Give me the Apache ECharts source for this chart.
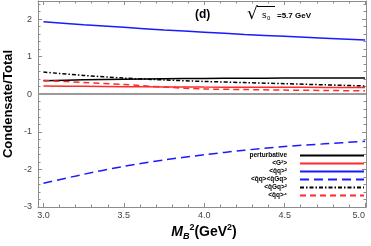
<!DOCTYPE html>
<html><head><meta charset="utf-8">
<script src="https://cdn.jsdelivr.net/npm/echarts@6/dist/echarts.min.js"></script>
<style>html,body{margin:0;padding:0;background:#fff}#c{width:371px;height:246px}</style>
</head><body><div id="c"></div>
<script>
const xValues = [3.0, 3.25, 3.5, 3.75, 4.0, 4.25, 4.5, 4.75, 5.0];
const perturbative = [0.36, 0.385, 0.40, 0.41, 0.42, 0.425, 0.43, 0.43, 0.43];
const g2 = [0.22, 0.21, 0.20, 0.195, 0.19, 0.187, 0.185, 0.182, 0.18];
const qq2 = [1.93, 1.85, 1.78, 1.71, 1.65, 1.59, 1.54, 1.49, 1.44];
const qqqGq = [-2.37, -2.13, -1.92, -1.75, -1.61, -1.49, -1.39, -1.32, -1.25];
const qGq2 = [0.59, 0.50, 0.43, 0.38, 0.34, 0.31, 0.28, 0.25, 0.22];
const qq4 = [0.37, 0.31, 0.26, 0.19, 0.14, 0.125, 0.11, 0.10, 0.09];
const seriesNames = ['perturbative', '<G²>', '<q̄q>²', '<q̄q><q̄Gq>', '<q̄Gq>²', '<q̄q>⁴'];
const xMajor = [3.0, 3.5, 4.0, 4.5, 5.0];
const xMinor = [3.1, 3.2, 3.3, 3.4, 3.6, 3.7, 3.8, 3.9, 4.1, 4.2, 4.3, 4.4, 4.6, 4.7, 4.8, 4.9];
const yMajor = [-3, -2, -1, 0, 1, 2];
const yMinor = [-2.8, -2.6, -2.4, -2.2, -1.8, -1.6, -1.4, -1.2, -0.8, -0.6, -0.4, -0.2,
  0.2, 0.4, 0.6, 0.8, 1.2, 1.4, 1.6, 1.8, 2.2, 2.4];

const X_MIN = 2.966, X_MAX = 5.006, Y_MIN = -3, Y_MAX = 2.48;
const FRAME = '#8c8c8c';
const FONT = 'Liberation Sans, Arial, sans-serif';

function xAx(pos, ticks, len, labels, line) {
  return {
    type: 'value', position: pos, min: X_MIN, max: X_MAX,
    axisLine: {show: line, onZero: false, lineStyle: {color: FRAME, width: 1}},
    axisTick: {show: true, inside: true, length: len, customValues: ticks, lineStyle: {color: FRAME, width: 1}},
    axisLabel: labels ? {show: true, customValues: ticks, margin: 4, color: '#444', fontSize: 9, fontFamily: FONT,
      formatter: v => v.toFixed(1), alignMaxLabel: 'right'} : {show: false},
    splitLine: {show: false}
  };
}
function yAx(pos, ticks, len, labels, line) {
  return {
    type: 'value', position: pos, min: Y_MIN, max: Y_MAX,
    axisLine: {show: line, onZero: false, lineStyle: {color: FRAME, width: 1}},
    axisTick: {show: true, inside: true, length: len, customValues: ticks, lineStyle: {color: FRAME, width: 1}},
    axisLabel: labels ? {show: true, customValues: ticks, margin: 6, color: '#444', fontSize: 9, fontFamily: FONT,
      formatter: v => String(v)} : {show: false},
    splitLine: {show: false}
  };
}
function pts(arr) { return xValues.map((x, i) => [x, arr[i]]); }
function line(name, arr, color, type, width) {
  return {
    name, type: 'line', data: pts(arr), xAxisIndex: 0, yAxisIndex: 0,
    symbol: 'none', smooth: 0.3, silent: true, animation: false,
    lineStyle: {color, width: width || 1.5, type},
    itemStyle: {color}
  };
}

const chart = echarts.init(document.getElementById('c'), null, {renderer: 'canvas'});
const series = [
  line(seriesNames[0], perturbative, '#000000', 'solid'),
  line(seriesNames[1], g2, '#ff2a2a', 'solid'),
  line(seriesNames[2], qq2, '#1a1aff', 'solid'),
  line(seriesNames[3], qqqGq, '#1a1aff', [9, 5]),
  line(seriesNames[4], qGq2, '#000000', [4, 2, 1.5, 2]),
  line(seriesNames[5], qq4, '#ff2a2a', [6, 4])
];
series[0].markLine = {
  silent: true, symbol: 'none', animation: false, label: {show: false},
  lineStyle: {color: '#9a9a9a', width: 2.2, type: 'solid'},
  data: [{yAxis: 0}]
};

chart.setOption({
  animation: false,
  backgroundColor: '#fff',
  grid: {left: 38, right: 5, top: 1, bottom: 39, containLabel: false},
  xAxis: [
    xAx('bottom', xMajor, 4, true, true),
    xAx('bottom', xMinor, 2.5, false, false),
    xAx('top', xMajor, 4, false, true),
    xAx('top', xMinor, 2.5, false, false)
  ],
  yAxis: [
    yAx('left', yMajor, 4, true, true),
    yAx('left', yMinor, 2.5, false, false),
    yAx('right', yMajor, 4, false, true),
    yAx('right', yMinor, 2.5, false, false)
  ],
  legend: {
    data: seriesNames, orient: 'vertical', align: 'right',
    right: 6, top: 152, padding: 0, itemGap: 1, itemWidth: 64, itemHeight: 7,
    selectedMode: false,
    itemStyle: {color: 'rgba(0,0,0,0)', borderColor: 'rgba(0,0,0,0)', borderWidth: 0},
    textStyle: {fontSize: 6.5, fontWeight: 'bold', color: '#000', fontFamily: FONT, lineHeight: 7, padding: [0, 8, 0, 0]}
  },
  series,
  graphic: [
    {type: 'text', left: 195, top: 9, style: {text: '(d)', font: 'bold 12px ' + FONT, fill: '#000'}},
    {type: 'text', x: 247, y: 15, style: {text: '√', font: '17px DejaVu Sans', fill: '#000', verticalAlign: 'middle'}},
    {type: 'line', shape: {x1: 257, y1: 6.5, x2: 275, y2: 6.5}, style: {stroke: '#000', lineWidth: 1}},
    {type: 'text', x: 262, y: 16, style: {text: 's', font: '9px ' + FONT, fill: '#000', verticalAlign: 'middle'}},
    {type: 'text', x: 267, y: 18.5, style: {text: '0', font: '6px ' + FONT, fill: '#000', verticalAlign: 'middle'}},
    {type: 'text', x: 277, y: 16, style: {text: '=5.7 GeV', font: 'bold 8px ' + FONT, fill: '#000', verticalAlign: 'middle'}},
    {type: 'text', x: 8, y: 104, rotation: Math.PI / 2,
      style: {text: 'Condensate/Total', font: 'bold 13px ' + FONT, fill: '#000', align: 'center', verticalAlign: 'middle'}},
    {type: 'text', x: 204, y: 232,
      style: {
        text: '{m|M}{b|B}{s|2}{n|(GeV}{s|2}{n|)}', align: 'center', verticalAlign: 'middle',
        rich: {
          m: {font: 'italic bold 14px ' + FONT, fill: '#000', lineHeight: 18},
          b: {font: 'italic bold 9px ' + FONT, fill: '#000', verticalAlign: 'bottom', lineHeight: 18},
          s: {font: 'bold 9px ' + FONT, fill: '#000', verticalAlign: 'top', lineHeight: 18},
          n: {font: 'bold 14px ' + FONT, fill: '#000', lineHeight: 18}
        }
      }}
  ]
});
</script>
</body></html>
